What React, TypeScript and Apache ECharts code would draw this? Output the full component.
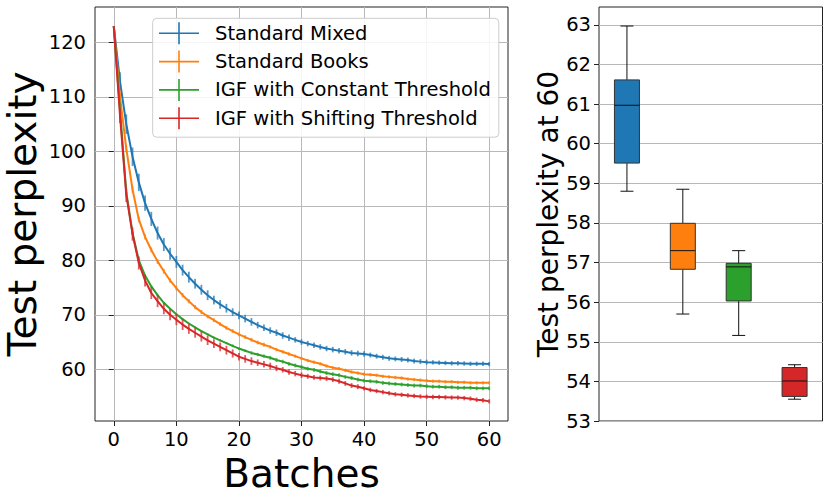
import React, { useEffect, useRef } from "react";
import * as echarts from "echarts";

const FONT = "'DejaVu Sans', 'Liberation Sans', sans-serif";

const seriesNames = [
  "Standard Mixed",
  "Standard Books",
  "IGF with Constant Threshold",
  "IGF with Shifting Threshold",
];
const colors = ["#1f77b4", "#ff7f0e", "#2ca02c", "#d62728"];

const batchTicks = [0, 10, 20, 30, 40, 50, 60];
const perplexityTicks = [60, 70, 80, 90, 100, 110, 120];
const finalTicks = [53, 54, 55, 56, 57, 58, 59, 60, 61, 62, 63];

// Test perplexity per batch (index = batch number 0..60)
const standardMixed = [
  123.0, 112.8, 105.0, 99.0, 94.3, 90.5, 87.6, 85.0, 82.9, 81.2,
  79.7, 78.2, 76.9, 75.7, 74.6, 73.6, 72.7, 71.9, 71.2, 70.5,
  69.9, 69.3, 68.7, 68.1, 67.6, 67.1, 66.7, 66.2, 65.8, 65.4,
  65.0, 64.7, 64.4, 64.1, 63.8, 63.6, 63.4, 63.2, 63.0, 62.9,
  62.8, 62.6, 62.4, 62.2, 62.0, 61.9, 61.8, 61.7, 61.5, 61.4,
  61.3, 61.25, 61.2, 61.15, 61.1, 61.1, 61.05, 61.0, 61.0, 61.0, 60.95,
];
const standardBooks = [
  123.0, 110.0, 100.5, 93.0, 87.5, 84.3, 81.9, 79.8, 78.0, 76.3,
  74.9, 73.6, 72.5, 71.4, 70.5, 69.7, 69.0, 68.3, 67.6, 67.0,
  66.4, 65.9, 65.4, 64.9, 64.5, 64.1, 63.6, 63.2, 62.8, 62.4,
  62.0, 61.6, 61.3, 61.0, 60.6, 60.3, 60.1, 59.8, 59.5, 59.3,
  59.1, 59.0, 58.9, 58.7, 58.6, 58.5, 58.4, 58.2, 58.1, 58.0,
  57.9, 57.8, 57.8, 57.7, 57.7, 57.6, 57.6, 57.5, 57.5, 57.5, 57.5,
];
const igfConstant = [
  123.0, 107.5, 92.5, 85.0, 80.0, 77.2, 75.2, 73.6, 72.2, 71.1,
  70.1, 69.2, 68.4, 67.7, 67.0, 66.4, 65.8, 65.3, 64.8, 64.3,
  63.8, 63.4, 63.0, 62.7, 62.4, 62.1, 61.7, 61.4, 61.0, 60.7,
  60.4, 60.1, 59.9, 59.6, 59.3, 59.1, 58.9, 58.6, 58.4, 58.1,
  57.9, 57.8, 57.7, 57.5, 57.4, 57.3, 57.2, 57.1, 57.0, 57.0,
  56.9, 56.8, 56.8, 56.7, 56.7, 56.6, 56.6, 56.6, 56.5, 56.5, 56.5,
];
const igfShifting = [
  123.0, 106.5, 92.0, 84.8, 79.5, 76.3, 74.0, 72.5, 71.1, 70.0,
  69.1, 68.2, 67.4, 66.7, 66.0, 65.3, 64.7, 64.1, 63.5, 62.9,
  62.3, 61.9, 61.5, 61.2, 60.9, 60.6, 60.2, 59.9, 59.5, 59.2,
  58.9, 58.7, 58.5, 58.4, 58.3, 58.1, 57.8, 57.4, 57.0, 56.8,
  56.5, 56.2, 56.0, 55.8, 55.6, 55.4, 55.3, 55.2, 55.1, 55.0,
  54.95, 54.9, 54.9, 54.85, 54.8, 54.8, 54.7, 54.6, 54.4, 54.3, 54.1,
];

// Error bar half-lengths
const standardMixedErr = [
  0, 1.7, 1.8, 1.7, 1.6, 1.4, 1.3, 1.2, 1.2, 1.1,
  1.1, 1.0, 1.0, 0.9, 0.9, 0.9, 0.8, 0.8, 0.8, 0.7,
  0.7, 0.7, 0.7, 0.6, 0.6, 0.6, 0.6, 0.6, 0.6, 0.5,
  0.5, 0.5, 0.5, 0.5, 0.5, 0.5, 0.5, 0.5, 0.5, 0.5,
  0.5, 0.45, 0.45, 0.45, 0.45, 0.45, 0.45, 0.45, 0.45, 0.45,
  0.45, 0.4, 0.4, 0.4, 0.4, 0.4, 0.4, 0.4, 0.4, 0.4, 0.4,
];
const standardBooksErr = [
  0, 0.8, 0.7, 0.6, 0.5, 0.5, 0.45, 0.45, 0.45, 0.4,
  0.4, 0.4, 0.4, 0.4, 0.4, 0.35, 0.35, 0.35, 0.35, 0.35,
  0.35, 0.35, 0.35, 0.35, 0.35, 0.3, 0.3, 0.3, 0.3, 0.3,
  0.3, 0.3, 0.3, 0.3, 0.3, 0.3, 0.3, 0.3, 0.3, 0.3,
  0.3, 0.3, 0.3, 0.3, 0.3, 0.3, 0.3, 0.3, 0.3, 0.3,
  0.3, 0.3, 0.3, 0.3, 0.3, 0.3, 0.3, 0.3, 0.3, 0.3, 0.3,
];
const igfConstantErr = [
  0, 0.3, 0.3, 0.25, 0.2, 0.15, 0.15, 0.15, 0.15, 0.15,
  0.15, 0.15, 0.15, 0.15, 0.15, 0.2, 0.2, 0.2, 0.2, 0.25,
  0.25, 0.25, 0.3, 0.3, 0.3, 0.35, 0.35, 0.35, 0.35, 0.35,
  0.35, 0.35, 0.35, 0.35, 0.35, 0.35, 0.35, 0.35, 0.35, 0.35,
  0.35, 0.35, 0.35, 0.35, 0.35, 0.35, 0.35, 0.35, 0.35, 0.35,
  0.35, 0.35, 0.35, 0.35, 0.35, 0.35, 0.35, 0.35, 0.35, 0.35, 0.35,
];
const igfShiftingErr = [
  0, 1.3, 1.3, 1.2, 1.2, 1.1, 1.1, 1.1, 1.0, 1.0,
  1.0, 1.0, 0.9, 0.9, 0.9, 0.85, 0.8, 0.8, 0.8, 0.75,
  0.7, 0.7, 0.7, 0.6, 0.6, 0.6, 0.55, 0.5, 0.5, 0.5,
  0.5, 0.45, 0.45, 0.45, 0.45, 0.45, 0.45, 0.45, 0.45, 0.45,
  0.4, 0.4, 0.4, 0.4, 0.4, 0.4, 0.4, 0.4, 0.4, 0.4,
  0.4, 0.4, 0.4, 0.4, 0.4, 0.4, 0.4, 0.4, 0.4, 0.4, 0.4,
];

// Box plot of test perplexity at batch 60: [min, Q1, median, Q3, max]
const boxStandardMixed = [58.8, 59.51, 60.97, 61.61, 62.97];
const boxStandardBooks = [55.7, 56.83, 57.3, 57.99, 58.85];
const boxIgfConstant = [55.16, 56.03, 56.89, 56.98, 57.3];
const boxIgfShifting = [53.55, 53.62, 54.01, 54.35, 54.42];

const allValues = [standardMixed, standardBooks, igfConstant, igfShifting];
const allErrs = [standardMixedErr, standardBooksErr, igfConstantErr, igfShiftingErr];
const allBoxes = [boxStandardMixed, boxStandardBooks, boxIgfConstant, boxIgfShifting];

const GRID_COLOR = "#b8b8b8";
const FRAME_COLOR = "#222";

export default function App() {
  const ref = useRef<HTMLDivElement>(null);

  useEffect(() => {
    if (!ref.current) return;
    const chart = echarts.init(ref.current, null, { renderer: "svg" });

    const lineSeries = allValues.map((vals, k) => ({
      name: seriesNames[k],
      type: "line",
      xAxisIndex: 0,
      yAxisIndex: 0,
      data: vals.map((v, i) => [i, v]),
      showSymbol: false,
      symbol: "none",
      clip: true,
      color: colors[k],
      lineStyle: { width: 2, color: colors[k] },
      z: 3 + k * 2,
    }));

    const errSeries = allValues.map((vals, k) => ({
      name: seriesNames[k] + " error",
      type: "custom",
      xAxisIndex: 0,
      yAxisIndex: 0,
      data: vals.map((v, i) => [i, v - allErrs[k][i], v + allErrs[k][i]]),
      encode: { x: 0, y: [1, 2] },
      z: 4 + k * 2,
      renderItem: (params: any, api: any) => {
        const x = api.value(0);
        const p1 = api.coord([x, api.value(1)]);
        const p2 = api.coord([x, api.value(2)]);
        return {
          type: "line",
          shape: { x1: p1[0], y1: p1[1], x2: p2[0], y2: p2[1] },
          style: { stroke: colors[k], lineWidth: 1.8, opacity: 0.75 },
        };
      },
    }));

    const boxSeries = {
      name: "Test perplexity at 60",
      type: "custom",
      xAxisIndex: 1,
      yAxisIndex: 1,
      data: allBoxes.map((b, i) => [i + 1, ...b]),
      encode: { x: 0, y: [1, 5] },
      z: 5,
      renderItem: (params: any, api: any) => {
        const pos = api.value(0);
        const mn = api.value(1);
        const q1 = api.value(2);
        const md = api.value(3);
        const q3 = api.value(4);
        const mx = api.value(5);
        const cx = api.coord([pos, md])[0];
        const y = (v: number) => api.coord([pos, v])[1];
        const half = 12.5;
        const cap = 6.5;
        const ls = { stroke: "#111", lineWidth: 1 };
        return {
          type: "group",
          children: [
            { type: "line", shape: { x1: cx, y1: y(mx), x2: cx, y2: y(q3) }, style: ls },
            { type: "line", shape: { x1: cx, y1: y(q1), x2: cx, y2: y(mn) }, style: ls },
            { type: "line", shape: { x1: cx - cap, y1: y(mx), x2: cx + cap, y2: y(mx) }, style: ls },
            { type: "line", shape: { x1: cx - cap, y1: y(mn), x2: cx + cap, y2: y(mn) }, style: ls },
            {
              type: "rect",
              shape: { x: cx - half, y: y(q3), width: half * 2, height: y(q1) - y(q3) },
              style: { fill: colors[params.dataIndex], stroke: "#333", lineWidth: 1 },
            },
            { type: "line", shape: { x1: cx - half, y1: y(md), x2: cx + half, y2: y(md) }, style: ls },
          ],
        };
      },
    };

    const tickLabel = { fontSize: 19.5, color: "#000", fontFamily: FONT };

    chart.setOption({
      animation: false,
      backgroundColor: "#ffffff",
      textStyle: { fontFamily: FONT },
      grid: [
        {
          left: 95, top: 7, width: 413, height: 414,
          show: true, borderColor: FRAME_COLOR, borderWidth: 1, backgroundColor: "transparent",
        },
        {
          left: 599, top: 7, width: 223.5, height: 414,
          show: true, borderColor: FRAME_COLOR, borderWidth: 1, backgroundColor: "transparent",
        },
      ],
      legend: {
        data: seriesNames,
        orient: "vertical",
        left: 152.7,
        top: 18.3,
        icon: "path://M0,10.2h40v1.6H0z M19.2,0h1.6v22h-1.6z",
        itemWidth: 40,
        itemHeight: 22,
        itemGap: 6.3,
        padding: [4, 8, 8, 6.3],
        backgroundColor: "rgba(255,255,255,0.85)",
        borderColor: "#cccccc",
        borderWidth: 1,
        borderRadius: 4,
        selectedMode: false,
        textStyle: { fontSize: 19.5, color: "#000", fontFamily: FONT, padding: [0, 0, 0, 11] },
        z: 20,
      },
      xAxis: [
        {
          type: "value",
          gridIndex: 0,
          min: -3,
          max: 63,
          minInterval: 10,
          maxInterval: 10,
          axisLine: { show: false },
          axisTick: { show: true, length: 5, customValues: batchTicks, lineStyle: { color: FRAME_COLOR } },
          axisLabel: { ...tickLabel, customValues: batchTicks, margin: 8 },
          splitLine: { show: true, lineStyle: { color: GRID_COLOR, width: 1 } },
          name: "Batches",
          nameLocation: "middle",
          nameGap: 24,
          nameTextStyle: { fontSize: 39, color: "#000", fontFamily: FONT },
        },
        {
          type: "value",
          gridIndex: 1,
          min: 0.5,
          max: 4.5,
          axisLine: { show: false },
          axisTick: { show: false },
          axisLabel: { show: false },
          splitLine: { show: false },
        },
      ],
      yAxis: [
        {
          type: "value",
          gridIndex: 0,
          min: 50.5,
          max: 126.5,
          minInterval: 10,
          maxInterval: 10,
          axisLine: { show: false },
          axisTick: { show: true, length: 5, customValues: perplexityTicks, lineStyle: { color: FRAME_COLOR } },
          axisLabel: { ...tickLabel, customValues: perplexityTicks, margin: 9 },
          splitLine: { show: true, lineStyle: { color: GRID_COLOR, width: 1 } },
          name: "Test perplexity",
          nameLocation: "middle",
          nameGap: 53,
          nameTextStyle: { fontSize: 39, color: "#000", fontFamily: FONT },
        },
        {
          type: "value",
          gridIndex: 1,
          min: 53,
          max: 63.45,
          interval: 1,
          axisLine: { show: false },
          axisTick: { show: true, length: 5, customValues: finalTicks, lineStyle: { color: FRAME_COLOR } },
          axisLabel: { ...tickLabel, customValues: finalTicks, margin: 8 },
          splitLine: { show: true, lineStyle: { color: GRID_COLOR, width: 1 } },
          name: "Test perplexity at 60",
          nameLocation: "middle",
          nameGap: 37,
          nameTextStyle: { fontSize: 28, color: "#000", fontFamily: FONT },
        },
      ],
      series: [...lineSeries, ...errSeries, boxSeries],
    });

    return () => chart.dispose();
  }, []);

  return (
    <div
      ref={ref}
      style={{ position: "fixed", left: 0, top: 0, width: 831, height: 498, background: "#fff" }}
    />
  );
}
